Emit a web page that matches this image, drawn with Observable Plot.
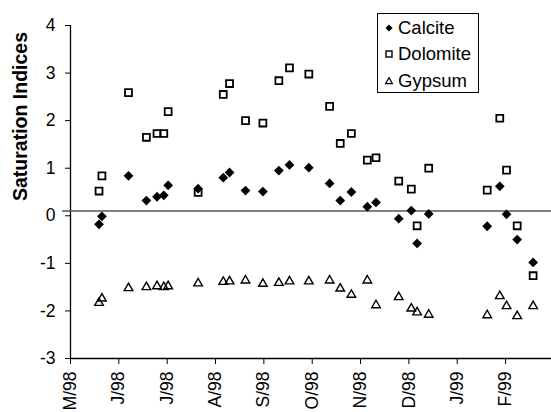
<!DOCTYPE html>
<html>
<head>
<meta charset="utf-8">
<script src="https://cdn.jsdelivr.net/npm/d3@7"></script>
<script src="https://cdn.jsdelivr.net/npm/@observablehq/plot@0.6"></script>
<style>
  body { margin: 0; background: #fff; }
  #wrap { position: relative; width: 551px; height: 412px; overflow: hidden; font-family: "Liberation Sans", Arial, sans-serif; }
  #legend { position: absolute; left: 377px; top: 13px; width: 100px; height: 78px; border: 1px solid #000; background: #fff; }
  .row { position: absolute; left: 0; height: 24px; display: flex; align-items: center; font-size: 18.5px; color: #000; }
  .row svg { margin-left: 6px; margin-right: 4px; }
</style>
</head>
<body>
<div id="wrap">
  <div id="chart"></div>
  <div id="legend"></div>
</div>
<script>
// Sampling times, in months since 1 May 1998
const months = [0.59, 0.65, 1.20, 1.57, 1.79, 1.93, 2.02, 2.64, 3.16, 3.29, 3.62, 3.98, 4.31, 4.53, 4.93,
                5.36, 5.58, 5.81, 6.14, 6.32, 6.79, 7.05, 7.17, 7.41, 8.62, 8.88, 9.02, 9.24, 9.57];
const calcite = [-0.18, -0.01, 0.84, 0.32, 0.40, 0.43, 0.64, 0.57, 0.80, 0.91, 0.53, 0.51, 0.95, 1.07, 1.01,
                 0.68, 0.32, 0.50, 0.19, 0.28, -0.06, 0.11, -0.58, 0.04, -0.22, 0.62, 0.03, -0.50, -0.98];
const dolomite = [0.52, 0.84, 2.59, 1.65, 1.73, 1.73, 2.19, 0.49, 2.55, 2.78, 2.00, 1.95, 2.84, 3.11, 2.98,
                  2.30, 1.52, 1.73, 1.17, 1.22, 0.73, 0.56, -0.21, 1.00, 0.54, 2.05, 0.96, -0.21, -1.26];
const gypsum = [-1.83, -1.74, -1.52, -1.50, -1.48, -1.50, -1.48, -1.42, -1.39, -1.38, -1.36, -1.43, -1.41, -1.38, -1.38,
                -1.36, -1.53, -1.66, -1.36, -1.88, -1.71, -1.95, -2.03, -2.08, -2.09, -1.69, -1.90, -2.11, -1.90];
const monthLabels = ["M/98", "J/98", "J/98", "A/98", "S/98", "O/98", "N/98", "D/98", "J/99", "F/99"];
const yTicks = [-3, -2, -1, 0, 1, 2, 3, 4];
const seriesNames = ["Calcite", "Dolomite", "Gypsum"];
const referenceLevel = 0.1;

const rows = months.map((m, i) => ({ m, calcite: calcite[i], dolomite: dolomite[i], gypsum: gypsum[i] }));
const font = '"Liberation Sans", Arial, sans-serif';

const chart = Plot.plot({
  width: 551,
  height: 412,
  marginLeft: 70,
  marginRight: 0,
  marginTop: 25,
  marginBottom: 54,
  style: { fontFamily: font, fontSize: "17.5px", color: "#000", background: "#fff", overflow: "visible" },
  x: { domain: [0, 9.95] },
  y: { domain: [-3, 4] },
  marks: [
    Plot.axisY({ ticks: yTicks, tickSize: 5, tickPadding: 10, label: null, tickFormat: d => String(d) }),
    Plot.axisX({ ticks: d3.range(monthLabels.length), tickFormat: i => monthLabels[i], tickRotate: -90,
                 tickSize: 6, tickPadding: 7, label: null }),
    Plot.ruleX([0], { stroke: "#000", strokeWidth: 1.3 }),
    Plot.ruleY([-3], { stroke: "#000", strokeWidth: 1.3 }),
    Plot.ruleY([referenceLevel], { stroke: "#555", strokeWidth: 1.5, insetLeft: -8 }),
    Plot.dot(rows, { x: "m", y: "calcite", symbol: "diamond2", fill: "#000", stroke: "none", r: 4.4 }),
    Plot.dot(rows, { x: "m", y: "dolomite", symbol: "square", fill: "none", stroke: "#000", strokeWidth: 1.8, r: 3.9 }),
    Plot.dot(rows, { x: "m", y: "gypsum", symbol: "triangle", fill: "none", stroke: "#000", strokeWidth: 1.4, r: 3.2 }),
    Plot.text(["Saturation Indices"], { frameAnchor: "left", dx: -50, dy: 9, rotate: -90,
                 fontWeight: "bold", fontSize: 19.5, fill: "#000" })
  ]
});
document.getElementById("chart").appendChild(chart);

// Legend
const markers = [
  '<svg width="10" height="10" viewBox="-5 -5 10 10"><polygon points="0,-3.6 3.6,0 0,3.6 -3.6,0" fill="#000"/></svg>',
  '<svg width="10" height="10" viewBox="-5 -5 10 10"><rect x="-3" y="-3" width="6" height="6" fill="none" stroke="#000" stroke-width="1.4"/></svg>',
  '<svg width="10" height="10" viewBox="-5 -5 10 10"><polygon points="0,-3.4 3.4,2.6 -3.4,2.6" fill="none" stroke="#000" stroke-width="1.2"/></svg>'
];
const legend = document.getElementById("legend");
const rowTops = [2, 28, 55];
seriesNames.forEach((name, i) => {
  const r = document.createElement("div");
  r.className = "row";
  r.style.top = rowTops[i] + "px";
  r.innerHTML = markers[i] + "<span>" + name + "</span>";
  legend.appendChild(r);
});
</script>
</body>
</html>
